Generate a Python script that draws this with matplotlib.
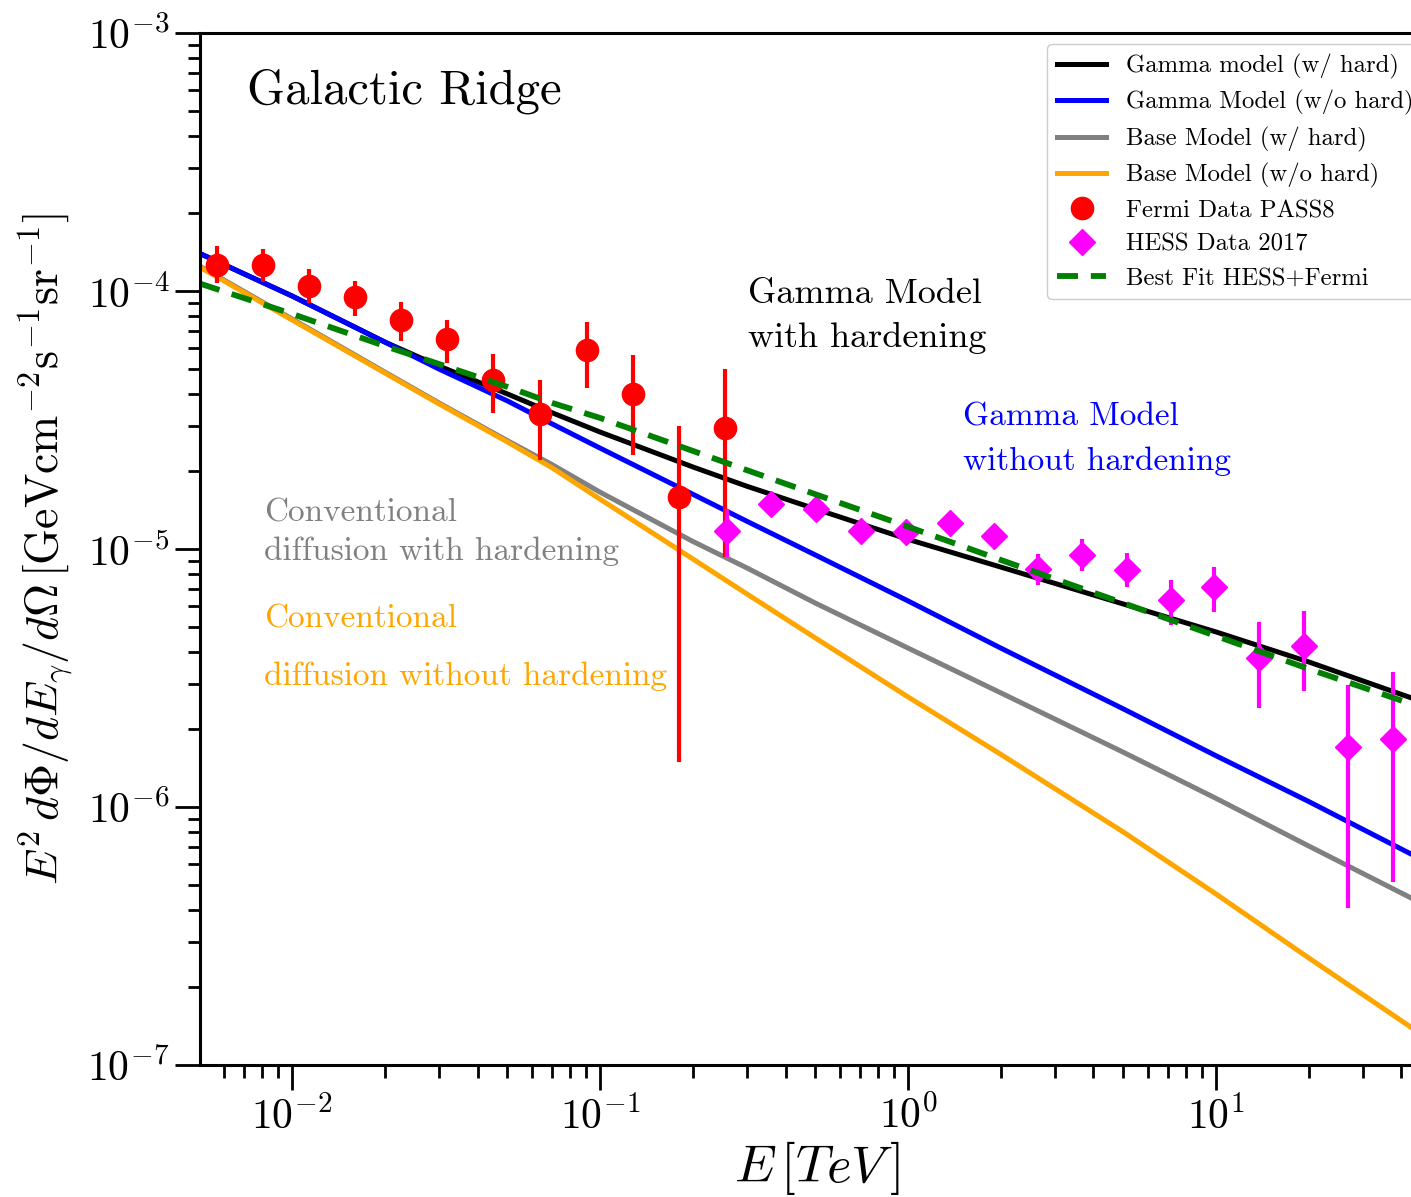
import matplotlib
matplotlib.use('Agg')
import matplotlib.pyplot as plt

plt.rcParams['font.family'] = 'cmr10'
plt.rcParams['mathtext.fontset'] = 'cm'
plt.rcParams['axes.formatter.use_mathtext'] = True

# model curves (E in TeV)
E_model = [0.005, 0.01, 0.02, 0.03, 0.05, 0.07, 0.1, 0.2, 0.3, 0.5, 1, 2, 5, 10, 20, 43]
gamma_hard = [1.40e-4, 9.56e-5, 6.34e-5, 5.12e-5, 3.99e-5, 3.37e-5, 2.84e-5, 2.08e-5, 1.75e-5,
              1.43e-5, 1.09e-5, 8.51e-6, 6.12e-6, 4.77e-6, 3.65e-6, 2.65e-6]
gamma_nohard = [1.40e-4, 9.56e-5, 6.34e-5, 4.98e-5, 3.75e-5, 3.05e-5, 2.46e-5, 1.63e-5, 1.28e-5,
                9.48e-6, 6.29e-6, 4.13e-6, 2.40e-6, 1.58e-6, 1.05e-6, 6.57e-7]
base_hard = [1.25e-4, 7.79e-5, 4.85e-5, 3.68e-5, 2.63e-5, 2.12e-5, 1.66e-5, 1.07e-5, 8.44e-6,
             6.17e-6, 4.13e-6, 2.77e-6, 1.63e-6, 1.08e-6, 7.06e-7, 4.44e-7]
base_nohard = [1.24e-4, 7.72e-5, 4.81e-5, 3.65e-5, 2.60e-5, 2.06e-5, 1.56e-5, 9.15e-6, 6.69e-6,
               4.52e-6, 2.67e-6, 1.60e-6, 8.00e-7, 4.60e-7, 2.60e-7, 1.40e-7]
best_fit = [1.07e-4, 8.15e-5, 6.12e-5, 5.21e-5, 4.25e-5, 3.68e-5, 3.22e-5, 2.40e-5, 2.02e-5,
            1.63e-5, 1.22e-5, 9.07e-6, 6.17e-6, 4.60e-6, 3.43e-6, 2.51e-6]

# Fermi PASS8
fermi_E = [5.71e-3, 8.05e-3, 1.135e-2, 1.60e-2, 2.26e-2, 3.19e-2, 4.50e-2, 6.38e-2, 9.08e-2, 0.128, 0.180, 0.255]
fermi_F = [1.26e-4, 1.26e-4, 1.05e-4, 9.48e-5, 7.73e-5, 6.52e-5, 4.52e-5, 3.33e-5, 5.90e-5, 3.99e-5, 1.59e-5, 2.94e-5]
fermi_lo = [1.07e-4, 1.08e-4, 8.98e-5, 8.0e-5, 6.40e-5, 5.26e-5, 3.37e-5, 2.21e-5, 4.21e-5, 2.31e-5, 1.49e-6, 9.3e-6]
fermi_hi = [1.49e-4, 1.46e-4, 1.22e-4, 1.09e-4, 9.06e-5, 7.73e-5, 5.70e-5, 4.52e-5, 7.58e-5, 5.65e-5, 3.0e-5, 4.99e-5]

# HESS 2017
hess_E = [0.258, 0.359, 0.502, 0.703, 0.985, 1.37, 1.90, 2.64, 3.67, 5.14, 7.14, 9.87, 13.8, 19.3, 26.8, 37.6]
hess_F = [1.17e-5, 1.49e-5, 1.43e-5, 1.17e-5, 1.16e-5, 1.26e-5, 1.12e-5, 8.36e-6, 9.48e-6, 8.30e-6,
          6.34e-6, 7.13e-6, 3.79e-6, 4.21e-6, 1.71e-6, 1.84e-6]
hess_lo = [9.3e-6, 1.38e-5, 1.33e-5, 1.09e-5, 1.08e-5, 1.17e-5, 1.04e-5, 7.24e-6, 8.22e-6, 7.13e-6,
           5.07e-6, 5.70e-6, 2.42e-6, 2.82e-6, 4.06e-7, 5.12e-7]
hess_hi = [1.43e-5, 1.60e-5, 1.54e-5, 1.26e-5, 1.25e-5, 1.36e-5, 1.21e-5, 9.57e-6, 1.09e-5, 9.64e-6,
           7.59e-6, 8.51e-6, 5.21e-6, 5.75e-6, 2.97e-6, 3.33e-6]


def err(vals, lo, hi):
    return [[v - l for v, l in zip(vals, lo)], [h - v for v, h in zip(vals, hi)]]


W, H = 1411, 1197
fig = plt.figure(figsize=(W / 100, H / 100), dpi=100)
ax = fig.add_axes([200 / W, 1 - 1065 / H, (1434 - 200) / W, (1065 - 33) / H])

ax.plot(E_model, gamma_hard, color='black', lw=3.6, label='Gamma model (w/ hard)')
ax.plot(E_model, gamma_nohard, color='blue', lw=3.6, label='Gamma Model (w/o hard)')
ax.plot(E_model, base_hard, color='grey', lw=3.6, label='Base Model (w/ hard)')
ax.plot(E_model, base_nohard, color='orange', lw=3.6, label='Base Model (w/o hard)')

ax.errorbar(fermi_E, fermi_F, yerr=err(fermi_F, fermi_lo, fermi_hi), fmt='none', ecolor='red', elinewidth=3)
ax.plot(fermi_E, fermi_F, 'o', color='red', ms=16, ls='none', label='Fermi Data PASS8')
ax.errorbar(hess_E, hess_F, yerr=err(hess_F, hess_lo, hess_hi), fmt='none', ecolor='magenta', elinewidth=3)
ax.plot(hess_E, hess_F, 'D', color='magenta', ms=13.5, ls='none', label='HESS Data 2017')

ax.plot(E_model, best_fit, color='green', lw=4.2, ls=(0, (3.6, 2.2)), label='Best Fit HESS+Fermi')

ax.set_xscale('log')
ax.set_yscale('log')
ax.set_xlim(5.02e-3, 10 ** ((1434 - 292) / 308 - 2))
ax.set_ylim(1e-7, 1e-3)

for s in ax.spines.values():
    s.set_linewidth(2.2)
ax.tick_params(which='both', direction='out', width=2, top=False, right=False)
ax.tick_params(which='major', length=18, labelsize=30, pad=4)
ax.tick_params(which='minor', length=9)

ax.set_xlabel(r'$E\,[TeV\,]$', fontsize=38, labelpad=2)
ax.set_ylabel(r'$E^2\,d\Phi/dE_{\gamma}/d\Omega\,[\mathrm{GeVcm^{-2}s^{-1}sr^{-1}}]$', fontsize=33, labelpad=9)

tr = fig.transFigure
def ftext(x, y, s, size, color):
    fig.text(x / W, 1 - y / H, s, fontsize=size, color=color, va='baseline', ha='left')

ftext(247, 104, 'Galactic Ridge', 35, 'black')
ftext(748, 303, 'Gamma Model', 26, 'black')
ftext(748, 347, 'with hardening', 26, 'black')
ftext(963, 426, 'Gamma Model', 24, 'blue')
ftext(963, 470, 'without hardening', 24, 'blue')
ftext(264, 522, 'Conventional', 24, 'grey')
ftext(264, 560, 'diffusion with hardening', 24, 'grey')
ftext(264, 628, 'Conventional', 24, 'orange')
ftext(264, 685, 'diffusion without hardening', 24, 'orange')

leg = ax.legend(loc='upper left', bbox_to_anchor=(1047 / W, 1 - 44 / H), bbox_transform=tr,
                fontsize=17.8, numpoints=1, handlelength=2.0, borderaxespad=0, framealpha=1,
                labelspacing=0.46, edgecolor='#cccccc')

fig.savefig('out.png', dpi=100)
